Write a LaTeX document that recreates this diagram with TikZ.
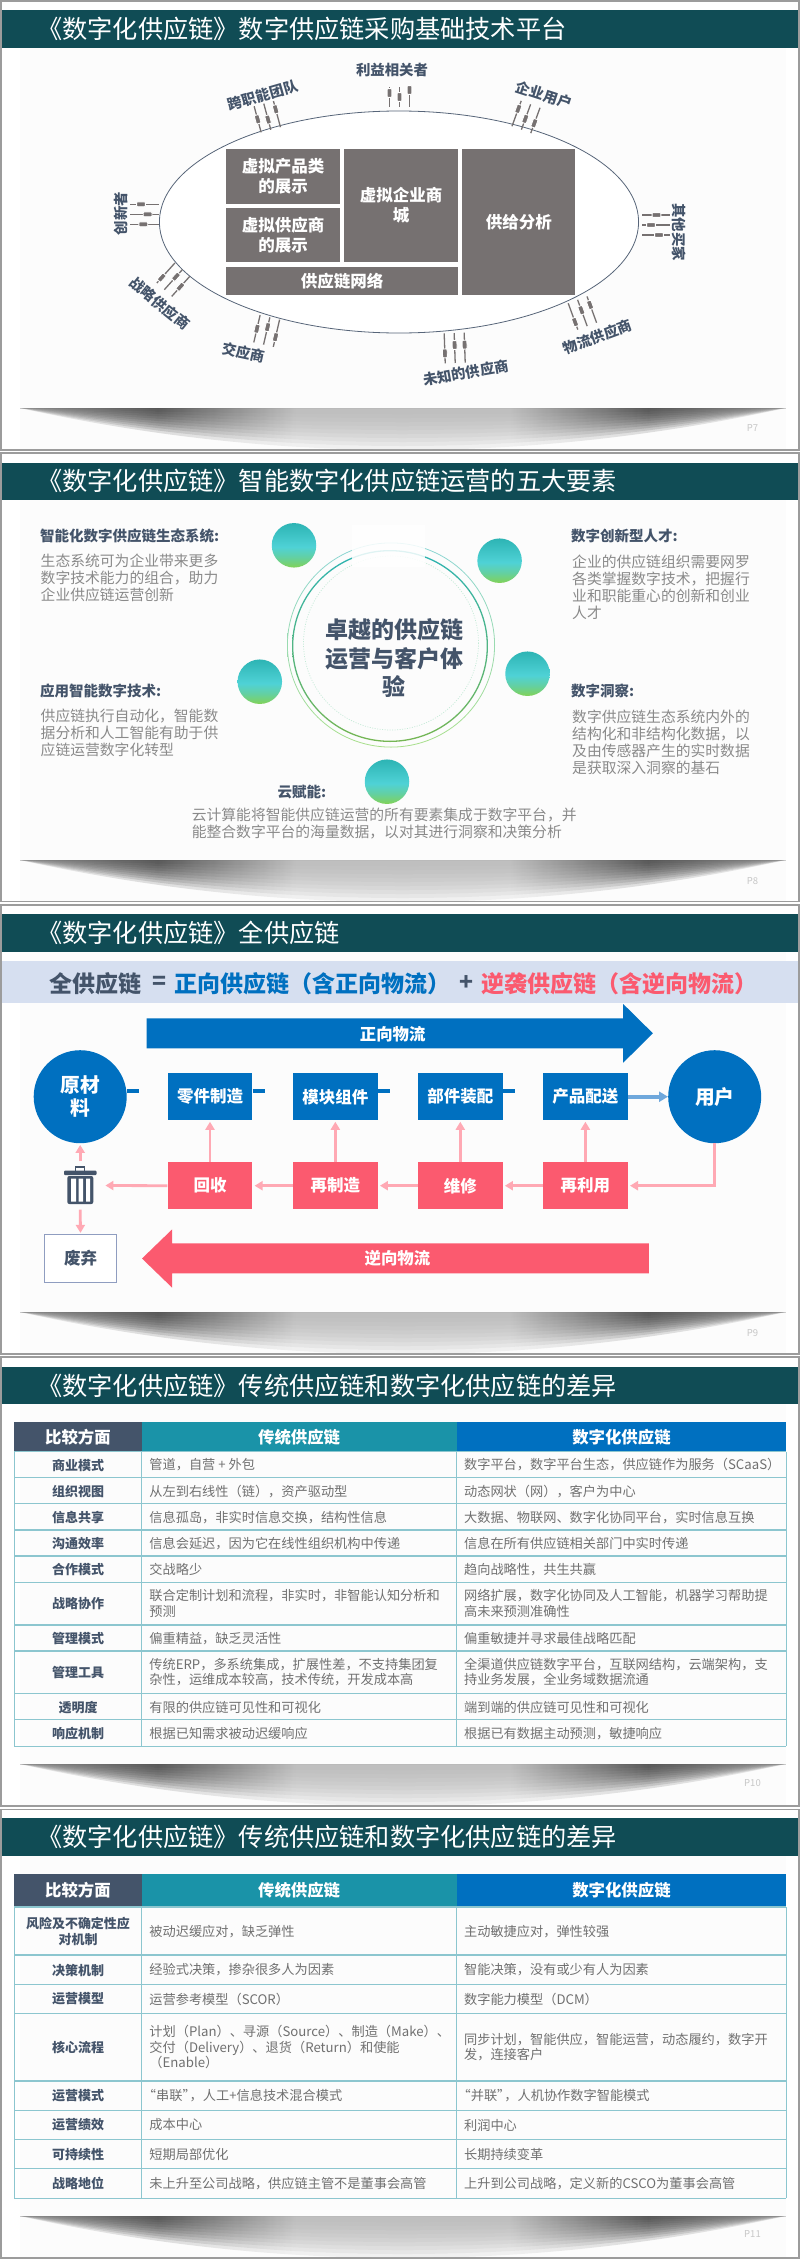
\documentclass[tikz,border=0pt]{standalone}
\usepackage{fontspec}
\setmainfont{Noto Sans CJK SC}
\usetikzlibrary{arrows.meta,calc}
\definecolor{bandc}{HTML}{104C55}
\definecolor{navy}{HTML}{44546A}
\definecolor{slate}{HTML}{767171}
\definecolor{bodyc}{HTML}{8A8A8A}
\definecolor{cellc}{HTML}{707070}
\definecolor{blu}{HTML}{0070C0}
\definecolor{red}{HTML}{FB5A6F}
\definecolor{pinkc}{HTML}{FFA9B4}
\definecolor{tealc}{HTML}{1A93A8}
\definecolor{gridc}{HTML}{8CC6CF}
\definecolor{framec}{HTML}{9C9C9C}
\definecolor{sa}{HTML}{808080}
\definecolor{sb}{HTML}{3C3C3C}
\definecolor{sc}{HTML}{B5B5B5}
\definecolor{HT}{HTML}{2DB4B4}
\definecolor{HM}{HTML}{4FD2D6}
\definecolor{HB}{HTML}{82D257}
\definecolor{HQ}{HTML}{62D0A4}
\definecolor{HTMLband}{HTML}{D6DFF0}
\definecolor{HTMLedge}{HTML}{8F9DC0}
\definecolor{HTMLarrow}{HTML}{6FA8DC}
\pgfdeclarehorizontalshading{shdw}{100bp}{color(0bp)=(sa);color(25bp)=(sa);color(34bp)=(sb);color(43bp)=(sc);color(57bp)=(sc);color(66bp)=(sb);color(75bp)=(sa);color(100bp)=(sa)}
\pgfdeclareverticalshading{gbshade}{100bp}{color(0bp)=(HB);color(25bp)=(HB);color(37bp)=(HQ);color(48bp)=(HM);color(75bp)=(HT);color(100bp)=(HT)}
\newcommand\fs[2]{\fontsize{#1pt}{#2pt}\selectfont}
\tikzset{
  lab/.style={font=\bfseries\fs{14.4}{17},text=navy,inner sep=0},
  grayrect/.style={fill=slate,text=white,font=\bfseries\fs{16.5}{19.7},align=center,inner sep=0},
  gball/.style={circle,inner sep=0,minimum size=44.5pt,shade,shading=gbshade},
  headt/.style={font=\bfseries\fs{14.5}{17},text=navy,anchor=west,inner sep=0},
  bodyt/.style={font=\fs{14.8}{17},text=bodyc,anchor=west,align=left,inner sep=0},
  bluebox/.style={fill=blu,text=white,font=\bfseries\fs{16.5}{20},minimum width=84.8pt,minimum height=46.7pt,inner sep=0},
  redbox/.style={fill=red,text=white,font=\bfseries\fs{16.5}{20},minimum width=84.8pt,minimum height=46.7pt,inner sep=0},
  bigball/.style={circle,fill=blu,text=white,font=\bfseries\fs{19.7}{23},align=center,inner sep=0,minimum size=93pt},
  pk/.style={draw=pinkc,line width=2.8pt,-{Triangle[width=9pt,length=8pt]}},
  stub/.style={draw=blu,line width=4pt},
  flowt/.style={text=white,font=\bfseries\fs{16.4}{20},inner sep=0},
  sumt/.style={font=\bfseries\fs{23}{25},anchor=west,inner sep=0},
  colh/.style={text=white,font=\bfseries\fs{16.4}{20},inner sep=0},
  firstc/.style={font=\bfseries\fs{13}{16},text=navy,align=center,inner sep=0},
  cellt/.style={font=\fs{13.2}{15.5},text=cellc,anchor=west,align=left,inner sep=0},
  gridl/.style={draw=gridc,line width=1.1pt},
  pagen/.style={font=\fs{9.5}{11},text=black!22,inner sep=0},
  titlet/.style={font=\fs{25.2}{28},text=white,anchor=west,inner sep=0},
}
% slide: id, top, bottom, band top, band bottom, title, shadow top, page label, page y
\newcommand\slideframe[9]{%
  \fill[white] (1,#2) rectangle (799,#3);
  \fill[black!1] (20,#5) rectangle (785.5,#3-1);
  \draw[framec,line width=1.8pt] (1,#2) rectangle (799,#3);
  \fill[bandc] (2,#4) rectangle (798,#5);
  \node[titlet] (#1title) at (37,{(#4+#5)/2}) {#6};
  \draw[black!13,line width=.8pt] (20,#7) -- (785.5,#7);
  \foreach \d in {6,10,14,18,22,26,30,34,38,42}{
    \pgfmathsetmacro\cy{#7+1.3333*\d}
    \shade[shading=shdw,opacity=.16] (20,#7) .. controls (275,\cy) and (530,\cy) .. (785.5,#7) -- cycle;
  }
  \node[pagen] (#1page) at (752.5,#9) {#8};
}
% tick set: x,y,rot,len,o1,o2,o3
\newcommand\tickset[7]{%
  \begin{scope}[shift={(#1,#2)},rotate=#3]
    \draw[slate,line width=1.3pt] (-10,-#4/2) -- (-10,#4/2) (0,-#4/2) -- (0,#4/2) (10,-#4/2) -- (10,#4/2);
    \filldraw[fill=slate,draw=white,line width=.9pt,rounded corners=.8pt] (-12.4,#5-4.4) rectangle (-7.6,#5+4.4) (-2.4,#6-4.4) rectangle (2.4,#6+4.4) (7.6,#7-4.4) rectangle (12.4,#7+4.4);
  \end{scope}
}
% table row
\newcommand\trow[5]{%
  \node[firstc] (#1f) at (78,#2) {#3};
  \node[cellt] (#1a) at (149.2,#2) {#4};
  \node[cellt] (#1b) at (463.9,#2) {#5};
}
\newcommand\thead[3]{%
  \node[fill=navy,colh,minimum width=127.2pt,minimum height=#3pt] (#1h1) at (77.9,#2) {比较方面};
  \node[fill=tealc,colh,minimum width=315.2pt,minimum height=#3pt,text width=315.2pt,align=center] (#1h2) at (299.1,#2) {传统供应链};
  \node[fill=blu,colh,minimum width=329.5pt,minimum height=#3pt,text width=329.5pt,align=center] (#1h3) at (621.45,#2) {数字化供应链};
}
\begin{document}
\begin{tikzpicture}[x=1pt,y=-1pt]
\useasboundingbox (0,0) rectangle (800,2259);
\fill[white] (0,0) rectangle (800,2259);
\slideframe{sa}{1}{450}{10}{48}{《数字化供应链》数字供应链采购基础技术平台}{408}{P7}{428}
\slideframe{sb}{453}{901.5}{462.7}{500}{《数字化供应链》智能数字化供应链运营的五大要素}{860}{P8}{880.7}
\slideframe{sd}{905}{1354}{914}{952}{《数字化供应链》全供应链}{1312}{P9}{1332.7}
\slideframe{se}{1357}{1806}{1367}{1404}{《数字化供应链》传统供应链和数字化供应链的差异}{1764}{P10}{1782.7}
\slideframe{sf}{1809.5}{2258.2}{1818}{1856}{《数字化供应链》传统供应链和数字化供应链的差异}{2216}{P11}{2234.3}

% ---------- slide 1
\draw[fill=white,draw=navy!90,line width=.8pt] (399,222) ellipse [x radius=239.6,y radius=111];
\node[grayrect,minimum width=113.4pt,minimum height=54.7pt] (va) at (283,176.3) {虚拟产品类\\的展示};
\node[grayrect,minimum width=113.4pt,minimum height=54pt] (vb) at (283,235) {虚拟供应商\\的展示};
\node[grayrect,minimum width=113.4pt,minimum height=113pt] (vc) at (401,205.5) {虚拟企业商\\城};
\node[grayrect,minimum width=112.9pt,minimum height=146.3pt] (vd) at (518.75,222.15) {供给分析};
\node[grayrect,minimum width=231.4pt,minimum height=28.6pt] (ve) at (342,281) {供应链网络};
\node[lab] (l1) at (392,70) {利益相关者};
\node[lab,rotate=16] (l2) at (263,95) {跨职能团队};
\node[lab,rotate=-18] (l3) at (544,95) {企业用户};
\node[lab,rotate=-90] (l4) at (679.5,232) {其他买家};
\node[lab,rotate=90] (l5) at (121,213.5) {创新者};
\node[lab,rotate=-39] (l6) at (159.7,303.3) {战略供应商};
\node[lab,rotate=-12] (l7) at (243.7,352.7) {交应商};
\node[lab,rotate=10] (l8) at (466,373) {未知的供应商};
\node[lab,rotate=20] (l9) at (597.7,336.7) {物流供应商};
\tickset{399.5}{97}{0}{20}{-4}{0}{-7}
\tickset{267.3}{116.7}{15}{27}{0}{3}{-5}
\tickset{526}{117}{-20}{27}{-5}{2}{3}
\tickset{655.5}{225}{-90}{28}{-1}{4.5}{-3.5}
\tickset{144.6}{214.3}{90}{29}{-1.3}{3}{-3.6}
\tickset{173.3}{279.7}{-42}{27}{6.2}{-4}{.5}
\tickset{266.7}{331}{-13}{28}{0}{-4}{4}
\tickset{454.7}{348}{2}{30}{5}{-3}{-3}
\tickset{582.4}{313}{20}{28}{6}{-3}{-5}

% ---------- slide 2
\path[even odd rule,top color=HT!55!white,bottom color=HB!70!white] (391,645) ellipse [x radius=104,y radius=102.5] (391,645) ellipse [x radius=103.2,y radius=101.7];
\path[even odd rule,top color=HT,bottom color=HB!85!black!95] (390,646) ellipse [x radius=98,y radius=96] (390,646) ellipse [x radius=96.7,y radius=94.7];
\draw[HB!45!HT!35!white,dash pattern=on 1pt off 1.5pt,line width=.7pt] (391,643) ellipse [x radius=87.5,y radius=87];
\fill[white,opacity=.85] (352,525) rectangle (425,567);
\node[gball] (g1) at (294,545.3) {};
\node[gball] (g2) at (499.6,560.7) {};
\node[gball] (g3) at (527.5,673.7) {};
\node[gball] (g4) at (259.8,681.7) {};
\node[gball] (g5) at (387,781.7) {};
\node[font=\bfseries\fs{23}{28.5},text=navy,align=center,inner sep=0] (core) at (394.4,658) {卓越的供应链\\运营与客户体\\验};
\node[headt] (h1) at (40,535.7) {智能化数字供应链生态系统:};
\node[bodyt] (t1) at (40.5,578.3) {生态系统可为企业带来更多\\数字技术能力的组合，助力\\企业供应链运营创新};
\node[headt] (h2) at (40,690.7) {应用智能数字技术:};
\node[bodyt] (t2) at (40.5,732.7) {供应链执行自动化，智能数\\据分析和人工智能有助于供\\应链运营数字化转型};
\node[headt] (h3) at (571,535.7) {数字创新型人才:};
\node[bodyt] (t3) at (572,587) {企业的供应链组织需要网罗\\各类掌握数字技术，把握行\\业和职能重心的创新和创业\\人才};
\node[headt] (h4) at (571,690.7) {数字洞察:};
\node[bodyt] (t4) at (572,742) {数字供应链生态系统内外的\\结构化和非结构化数据，以\\及由传感器产生的实时数据\\是获取深入洞察的基石};
\node[headt] (h5) at (277.4,791.7) {云赋能:};
\node[bodyt] (t5) at (191.6,823.6) {云计算能将智能供应链运营的所有要素集成于数字平台，并\\能整合数字平台的海量数据，以对其进行洞察和决策分析};

% ---------- slide 3
\fill[HTMLband] (2,961) rectangle (798,1002.7);
\node[sumt,text=navy] (s1) at (49.5,983.3) {全供应链};
\node[sumt,text=navy] (s2) at (152,983.3) {=};
\node[sumt,text=blu] (s3) at (174.7,983.3) {正向供应链（含正向物流）};
\node[sumt,text=navy] (s4) at (459,983.3) {+};
\node[sumt,text=red] (s5) at (481,983.3) {逆袭供应链（含逆向物流）};
\fill[blu] (146.6,1018.3) -- (623.2,1018.3) -- (623.2,1004) -- (652.9,1033.3) -- (623.2,1062.7) -- (623.2,1048.3) -- (146.6,1048.3) -- cycle;
\node[flowt] (fw) at (392.7,1034.5) {正向物流};
\fill[red] (648.8,1243.3) -- (172.2,1243.3) -- (172.2,1229.3) -- (142,1258.5) -- (172.2,1287.7) -- (172.2,1273.3) -- (648.8,1273.3) -- cycle;
\node[flowt] (rv) at (397.4,1258.7) {逆向物流};
\node[bigball] (raw) at (80.2,1096.7) {原材\\料};
\node[bigball] (user) at (714.7,1096.7) {\raisebox{-4pt}{用户}};
\node[bluebox] (b1) at (210,1096.7) {\raisebox{-4pt}{零件制造}};
\node[bluebox] (b2) at (335.35,1096.7) {\raisebox{-4pt}{模块组件}};
\node[bluebox] (b3) at (460.3,1096.7) {\raisebox{-4pt}{部件装配}};
\node[bluebox] (b4) at (585.4,1096.7) {\raisebox{-4pt}{产品配送}};
\node[redbox] (r1) at (210,1185.7) {回收};
\node[redbox] (r2) at (335.35,1185.7) {再制造};
\node[redbox] (r3) at (460.3,1185.7) {维修};
\node[redbox] (r4) at (585.4,1185.7) {再利用};
\node[draw=HTMLedge,line width=1pt,fill=white,minimum width=72pt,minimum height=47.7pt,inner sep=0,font=\bfseries\fs{16.5}{20},text=navy] (waste) at (80.5,1258.2) {废弃};
\node[minimum width=50pt,minimum height=48pt,inner sep=0] (trash) at (80.2,1185.5) {};
% trash icon
\fill[navy,rounded corners=1pt] (64,1170.7) rectangle (96.7,1175);
\draw[navy,line width=1.5pt] (75.5,1170.7) -- (75.5,1167) -- (84.5,1167) -- (84.5,1170.7);
\fill[navy,rounded corners=2pt] (67.3,1176) rectangle (93.3,1204);
\fill[white] (71,1178.5) rectangle (76,1201.5) (78.5,1178.5) rectangle (83,1201.5) (86,1178.5) rectangle (90,1201.5);
% connectors
\draw[stub] ($(raw.east)+(0,-5.4)$) -- ++(12.3,0);
\draw[stub] ($(b1.east)+(0,-5.4)$) -- ++(12,0);
\draw[stub] ($(b2.east)+(0,-5.4)$) -- ++(12.3,0);
\draw[stub] ($(b3.east)+(0,-5.4)$) -- ++(12.3,0);
\draw[draw=HTMLarrow,line width=3.6pt,-{Triangle[width=10pt,length=9pt]}] (b4.east) -- (user.west);
\foreach \i in {1,2,3,4}{\draw[pk,shorten >=1.5pt] (r\i.north) -- (b\i.south);}
\draw[pk,shorten >=2pt] (r4.west) -- (r3.east);
\draw[pk,shorten >=2pt] (r3.west) -- (r2.east);
\draw[pk,shorten >=2pt] (r2.west) -- (r1.east);
\draw[pk] (r1.west) -- (trash.east);
\draw[pk,shorten >=1.5pt] (trash.north) -- (raw.south);
\draw[pk,shorten >=1pt] (trash.south) -- (waste.north);
\draw[pk,rounded corners=0pt,shorten >=2pt] (user.south) |- (r4.east);

% ---------- slide 4 table
\thead{se}{1436.85}{29.7}
\foreach \y in {1451.7,1477.7,1503.7,1530,1556,1582.3,1625,1651,1693.7,1719.7,1746.3}{\draw[gridl] (14.3,\y) -- (786.2,\y);}
\draw[gridl] (14.3,1451.7) -- (14.3,1746.3) (141.5,1451.7) -- (141.5,1746.3) (456.7,1451.7) -- (456.7,1746.3) (786.2,1451.7) -- (786.2,1746.3);
\trow{p1}{1465}{商业模式}{管道，自营 + 外包}{数字平台，数字平台生态，供应链作为服务（SCaaS）}
\trow{p2}{1491.3}{组织视图}{从左到右线性（链），资产驱动型}{动态网状（网），客户为中心}
\trow{p3}{1517.3}{信息共享}{信息孤岛，非实时信息交换，结构性信息}{大数据、物联网、数字化协同平台，实时信息互换}
\trow{p4}{1543.7}{沟通效率}{信息会延迟，因为它在线性组织机构中传递}{信息在所有供应链相关部门中实时传递}
\trow{p5}{1569.7}{合作模式}{交战略少}{趋向战略性，共生共赢}
\trow{p6}{1603.5}{战略协作}{联合定制计划和流程，非实时，非智能认知分析和\\预测}{网络扩展，数字化协同及人工智能，机器学习帮助提\\高未来预测准确性}
\trow{p7}{1638.7}{管理模式}{偏重精益，缺乏灵活性}{偏重敏捷并寻求最佳战略匹配}
\trow{p8}{1672.3}{管理工具}{传统ERP，多系统集成，扩展性差，不支持集团复\\杂性，运维成本较高，技术传统，开发成本高}{全渠道供应链数字平台，互联网结构，云端架构，支\\持业务发展，全业务域数据流通}
\trow{p9}{1707.3}{透明度}{有限的供应链可见性和可视化}{端到端的供应链可见性和可视化}
\trow{p10}{1733.3}{响应机制}{根据已知需求被动迟缓响应}{根据已有数据主动预测，敏捷响应}

% ---------- slide 5 table
\thead{sf}{1890.5}{33}
\foreach \y in {1907,1955,1984.3,2013.3,2081,2110.3,2139.7,2168.7,2198.3}{\draw[gridl] (14.3,\y) -- (786.2,\y);}
\draw[gridl] (14.3,1907) -- (14.3,2198.3) (141.5,1907) -- (141.5,2198.3) (456.7,1907) -- (456.7,2198.3) (786.2,1907) -- (786.2,2198.3);
\trow{q1}{1931.5}{风险及不确定性应\\对机制}{被动迟缓应对，缺乏弹性}{主动敏捷应对，弹性较强}
\trow{q2}{1970}{决策机制}{经验式决策，掺杂很多人为因素}{智能决策，没有或少有人为因素}
\trow{q3}{1999}{运营模型}{运营参考模型（SCOR）}{数字能力模型（DCM）}
\trow{q4}{2047}{核心流程}{计划（Plan）、寻源（Source）、制造（Make）、\\交付（Delivery）、退货（Return）和使能\\（Enable）}{同步计划，智能供应，智能运营，动态履约，数字开\\发，连接客户}
\trow{q5}{2095.7}{运营模式}{\hspace*{-6.5pt}“串联”\hspace{-6pt}，人工+信息技术混合模式}{\hspace*{-6.5pt}“并联”\hspace{-6pt}，人机协作数字智能模式}
\trow{q6}{2125}{运营绩效}{成本中心}{利润中心}
\trow{q7}{2154.3}{可持续性}{短期局部优化}{长期持续变革}
\trow{q8}{2183.7}{战略地位}{未上升至公司战略，供应链主管不是董事会高管}{上升到公司战略，定义新的CSCO为董事会高管}
\end{tikzpicture}
\end{document}
